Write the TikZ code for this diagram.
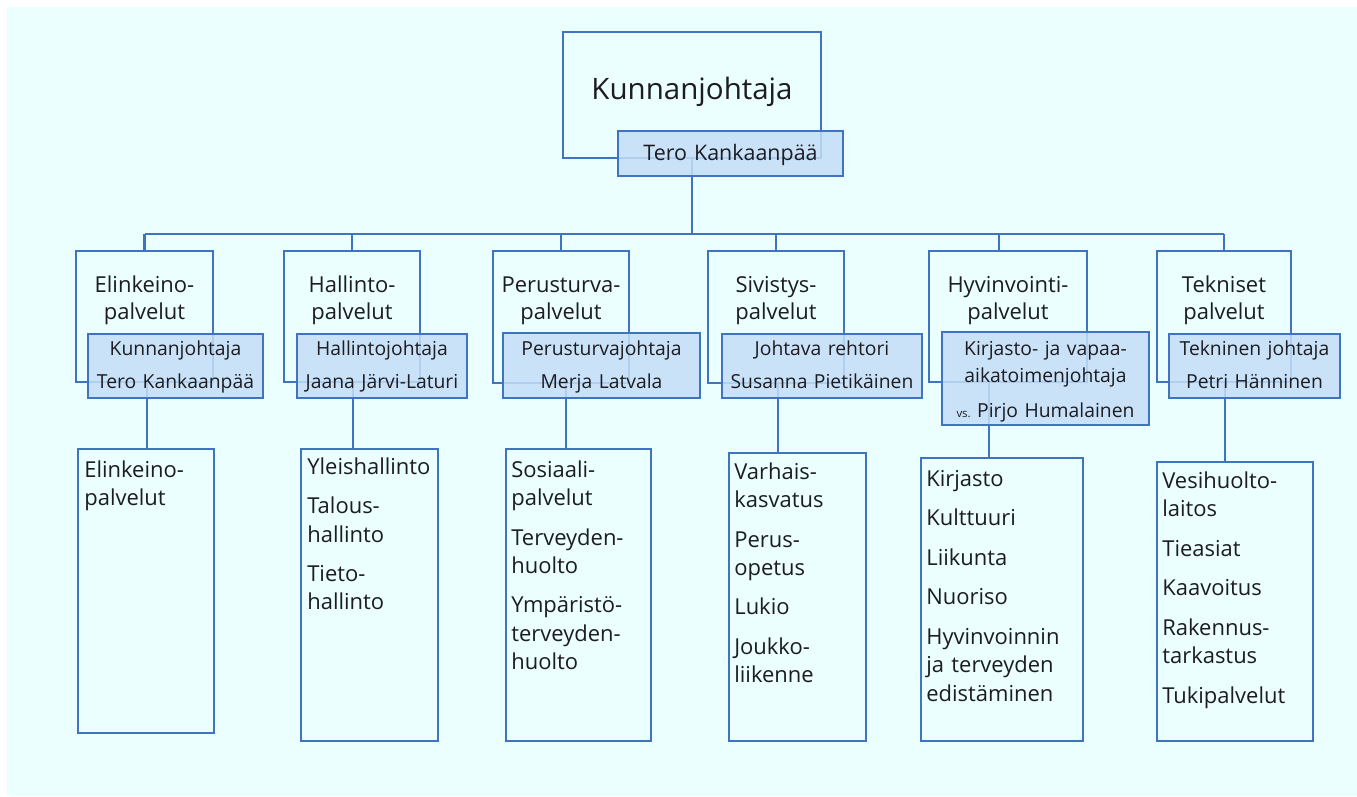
\documentclass[tikz,border=0pt]{standalone}
\usepackage{fontspec}
\setmainfont{Open Sans}
\usepackage{tikz}
\usetikzlibrary{fit}
\usetikzlibrary{positioning}

\definecolor{bgcyan}{RGB}{235,255,255}
\definecolor{lineblue}{RGB}{62,116,192}
\definecolor{nameblue}{RGB}{197,222,247}
\definecolor{inkdark}{RGB}{28,28,34}

\newcommand{\nextitem}{\\[6.3pt]}

\begin{document}
\begin{tikzpicture}[x=0.02cm,y=-0.02cm,
    orgbox/.style={draw=lineblue, line width=1.3pt, inner sep=0pt},
    namebox/.style={draw=lineblue, line width=1.3pt, fill=nameblue, fill opacity=0.85, inner sep=0pt},
    orgline/.style={draw=lineblue, line width=1.2pt},
    headtxt/.style={text width=2.7cm, align=center, inner sep=0pt, anchor=base, text=inkdark,
        font=\fontsize{12.5}{15.9}\selectfont},
    nametxt/.style={text width=4cm, align=center, inner sep=0pt, anchor=base, text=inkdark,
        font=\fontsize{11}{19.3}\selectfont},
    listtxt/.style={text width=3cm, align=left, inner sep=0pt, anchor=base west, text=inkdark,
        font=\fontsize{12.5}{16.2}\selectfont}]
    \useasboundingbox (0,0) rectangle (1357,796);
    \fill[white] (0,0) rectangle (1357,796);
    \fill[bgcyan] (7,7) rectangle (1357,796);

    % kunnanjohtaja
    \node[orgbox, fit={(563,32) (821,158)}] (kj) {};

    % toimialat
    \node[orgbox, fit={(76,251) (213,382)}] (elink) {};
    \node[orgbox, fit={(284,251) (420,382)}] (hall) {};
    \node[orgbox, fit={(493,251) (629,383)}] (peru) {};
    \node[orgbox, fit={(708,251) (844,383)}] (sivi) {};
    \node[orgbox, fit={(929,251) (1087,382)}] (hyv) {};
    \node[orgbox, fit={(1157,251) (1291,382)}] (tekn) {};

    % palvelut
    \node[orgbox, fit={(78,449) (214,733)}] (elink-list) {};
    \node[orgbox, fit={(301,449) (438,741)}] (hall-list) {};
    \node[orgbox, fit={(506,449) (651,741)}] (peru-list) {};
    \node[orgbox, fit={(729,453) (866,741)}] (sivi-list) {};
    \node[orgbox, fit={(921,458) (1083,741)}] (hyv-list) {};
    \node[orgbox, fit={(1157,462) (1313,741)}] (tekn-list) {};

    % connectors
    \coordinate (bus) at (692,234);
    \coordinate (hyvtop) at (999,234);
    \draw[orgline] (kj.south) -- (bus);
    \draw[orgline] (elink.north |- bus) -- (tekn.north |- bus);
    \foreach \b in {elink,hall,peru,sivi,tekn}
        \draw[orgline] (\b.north |- bus) -- (\b.north);
    \draw[orgline] (hyvtop) -- (hyvtop |- hyv.north);
    \foreach \b/\dx in {elink/1.4pt,hall/0.6pt,peru/2.8pt,sivi/1.1pt,hyv/-10.8pt,tekn/0.6pt}
        \draw[orgline] ([xshift=\dx]\b.south) -- ([xshift=\dx]\b.south |- \b-list.north);

    % nimilaatikot
    \node[namebox, fit={(618,131) (843,176)}] (kj-name) {};
    \node[namebox, fit={(88,334) (263,398)}] (elink-name) {};
    \node[namebox, fit={(297,334) (467,398)}] (hall-name) {};
    \node[namebox, fit={(503,333) (700,398)}] (peru-name) {};
    \node[namebox, fit={(722,334) (922,398)}] (sivi-name) {};
    \node[namebox, fit={(942,332) (1149,425)}] (hyv-name) {};
    \node[namebox, fit={(1169,334) (1340,398)}] (tekn-name) {};

    % texts
    \node[headtxt, text width=5cm, font=\fontsize{16.8}{20}\selectfont] (kj-txt) at (692,99) {Kunnanjohtaja};
    \node[nametxt, font=\fontsize{12.2}{15}\selectfont] (kj-nametxt) at (730.5,160) {Tero Kankaanpää};

    \node[headtxt] (elink-txt) at (144.5,292) {Elinkeino-\\palvelut};
    \node[headtxt] (hall-txt) at (352,292) {Hallinto-\\palvelut};
    \node[headtxt] (peru-txt) at (561,292) {Perusturva-\\palvelut};
    \node[headtxt] (sivi-txt) at (776,292) {Sivistys-\\palvelut};
    \node[headtxt] (hyv-txt) at (1008,292) {Hyvinvointi-\\palvelut};
    \node[headtxt] (tekn-txt) at (1224,292) {Tekniset\\palvelut};

    \node[nametxt] (elink-nametxt) at (175.5,355) {Kunnanjohtaja\\Tero Kankaanpää};
    \node[nametxt] (hall-nametxt) at (382,355) {Hallintojohtaja\\Jaana Järvi-Laturi};
    \node[nametxt] (peru-nametxt) at (601.5,355) {Perusturvajohtaja\\Merja Latvala};
    \node[nametxt] (sivi-nametxt) at (822,355) {Johtava rehtori\\Susanna Pietikäinen};
    \node[nametxt, font=\fontsize{11}{15.4}\selectfont] (hyv-nametxt) at (1045.5,355)
        {Kirjasto- ja vapaa-\\aikatoimenjohtaja\\[4.5pt]{\fontsize{6.5}{7}\selectfont vs.}~Pirjo Humalainen};
    \node[nametxt] (tekn-nametxt) at (1254.5,355) {Tekninen johtaja\\Petri Hänninen};

    \node[listtxt] (elink-items) at (84,477) {Elinkeino-\\palvelut};
    \node[listtxt] (hall-items) at (307,474) {Yleishallinto\nextitem Talous-\\hallinto\nextitem Tieto-\\hallinto};
    \node[listtxt] (peru-items) at (511,477) {Sosiaali-\\palvelut\nextitem Terveyden-\\huolto\nextitem Ympäristö-\\terveyden-\\huolto};
    \node[listtxt] (sivi-items) at (734,479) {Varhais-\\kasvatus\nextitem Perus-\\opetus\nextitem Lukio\nextitem Joukko-\\liikenne};
    \node[listtxt] (hyv-items) at (926,486) {Kirjasto\nextitem Kulttuuri\nextitem Liikunta\nextitem Nuoriso\nextitem Hyvinvoinnin\\ja terveyden\\edistäminen};
    \node[listtxt] (tekn-items) at (1162,488) {Vesihuolto-\\laitos\nextitem Tieasiat\nextitem Kaavoitus\nextitem Rakennus-\\tarkastus\nextitem Tukipalvelut};
\end{tikzpicture}
\end{document}
